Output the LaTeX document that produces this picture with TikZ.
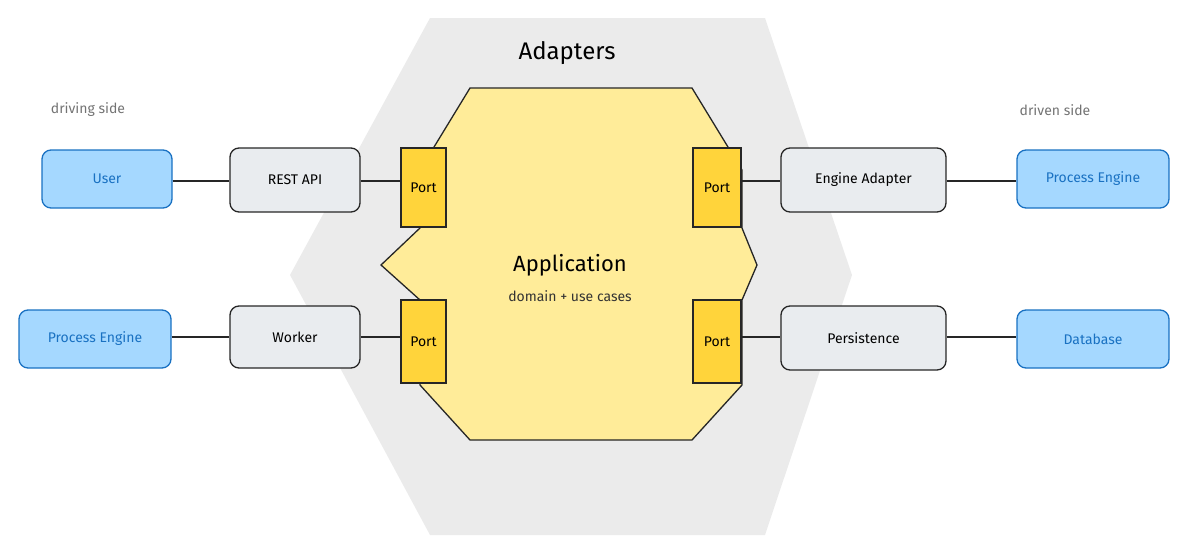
\documentclass[tikz,border=0pt]{standalone}
\usepackage{fontspec}
\setmainfont{Fira Sans}
\definecolor{extfill}{HTML}{A5D8FF}
\definecolor{extdraw}{HTML}{1971C2}
\definecolor{appfill}{HTML}{FFEC99}
\definecolor{portfill}{HTML}{FFD43B}
\definecolor{boxfill}{HTML}{E9ECEF}
\begin{document}
\begin{tikzpicture}[x=1pt,y=-1pt,
  box/.style={draw=black!85,line width=1.3pt,rounded corners=9pt,fill=boxfill,inner sep=0},
  ext/.style={draw=extdraw,line width=1.3pt,rounded corners=9pt,fill=extfill,text=extdraw,inner sep=0},
  port/.style={draw=black!85,line width=1.2pt,fill=portfill,inner sep=0},
  conn/.style={line width=1.3pt,black!85},
  lbl/.style={font=\fontsize{14}{16}\selectfont}]
\useasboundingbox (0,0) rectangle (1200,554);
\fill[black!8] (430,18) -- (765,18) -- (852,275) -- (765,535) -- (430,535) -- (290,275) -- cycle;
\filldraw[fill=appfill,draw=black!85,line width=1.3pt]
 (470,88) -- (692,88) -- (742,170) -- (742,228) -- (757,265) -- (742,300) -- (742,385) -- (692,440)
 -- (470,440) -- (420,385) -- (420,300) -- (381,265) -- (420,228) -- (420,170) -- cycle;
\node[font=\fontsize{24}{28}\selectfont] (adap) at (567,53) {Adapters};
\node[font=\fontsize{22}{26}\selectfont] (app) at (570,265) {Application};
\node[font=\fontsize{14}{16}\selectfont,black!80] (dom) at (570,296) {domain + use cases};
\node[font=\fontsize{14}{16}\selectfont,black!55] (dr) at (88,110) {driving side};
\node[font=\fontsize{14}{16}\selectfont,black!55] (dn) at (1055,110) {driven side};
\node[port,minimum width=45pt,minimum height=79pt,lbl] (p1) at (423.5,187.5) {Port};
\node[port,minimum width=48pt,minimum height=79pt,lbl] (p2) at (717,187.5) {Port};
\node[port,minimum width=45pt,minimum height=83pt,lbl] (p3) at (423.5,341.5) {Port};
\node[port,minimum width=48pt,minimum height=83pt,lbl] (p4) at (717,341.5) {Port};
\node[ext,minimum width=130pt,minimum height=58pt,lbl] (user) at (107,179) {User};
\node[box,minimum width=130pt,minimum height=64pt,lbl] (rest) at (295,180) {REST API};
\node[box,minimum width=165pt,minimum height=64pt,lbl] (eng) at (863.5,180) {Engine Adapter};
\node[ext,minimum width=152pt,minimum height=58pt,lbl] (pe1) at (1093,179) {Process Engine};
\node[ext,minimum width=152pt,minimum height=58pt,lbl] (pe2) at (95,339) {Process Engine};
\node[box,minimum width=130pt,minimum height=62pt,lbl] (work) at (295,337) {Worker};
\node[box,minimum width=165pt,minimum height=64pt,lbl] (pers) at (863.5,338) {Persistence};
\node[ext,minimum width=152pt,minimum height=58pt,lbl] (db) at (1093,339) {Database};
\draw[conn] (user.east |- 0,181) -- (rest.west |- 0,181);
\draw[conn] (rest.east |- 0,181) -- (p1.west |- 0,181);
\draw[conn] (p2.east |- 0,181) -- (eng.west |- 0,181);
\draw[conn] (eng.east |- 0,181) -- (pe1.west |- 0,181);
\draw[conn] (pe2.east |- 0,337) -- (work.west |- 0,337);
\draw[conn] (work.east |- 0,337) -- (p3.west |- 0,337);
\draw[conn] (p4.east |- 0,337) -- (pers.west |- 0,337);
\draw[conn] (pers.east |- 0,337) -- (db.west |- 0,337);
\end{tikzpicture}
\end{document}
